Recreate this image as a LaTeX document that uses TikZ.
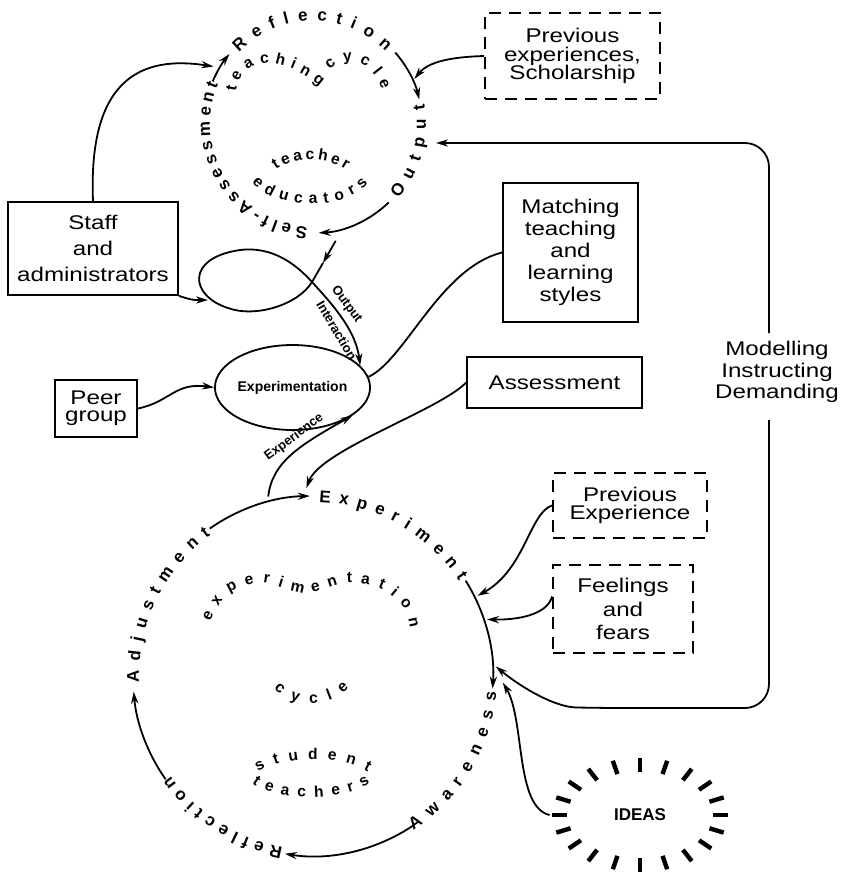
\documentclass[tikz,border=0pt]{standalone}
\usepackage{fontspec}
\setmainfont{Liberation Sans}
\newfontfamily\widefont{Liberation Sans}[FakeStretch=1.22]
\usetikzlibrary{shapes,positioning,arrows.meta,decorations.text,calc}
\newcommand{\ringfont}{\bfseries\fontsize{8.5}{10}\selectfont}
\newcommand{\innerfont}{\bfseries\fontsize{7.8}{9}\selectfont}

\begin{document}
\begin{tikzpicture}[x=0.5pt,y=-0.5pt]
	\tikzstyle{every node}=[inner sep=0pt];
	\tikzstyle{box}=[draw,line width=0.9pt,align=center,font=\widefont\fontsize{9.9}{11.5}\selectfont];
	\tikzstyle{dbox}=[box,dash pattern=on 6pt off 4pt];
	\tikzstyle{arr}=[line width=0.9pt,-{Stealth[length=6pt,width=3.6pt]}];
	\tikzstyle{link}=[line width=0.9pt];
	\tikzstyle{ray}=[line width=2.2pt];
	\tikzstyle{tag}=[inner sep=2.5pt,sloped,font=\bfseries\fontsize{6.5}{7}\selectfont];
	\tikzset{ringtxt/.style={decorate,decoration={text along path,text align=fit to path,text={|\ringfont|#1}}},
		inringtxt/.style={decorate,decoration={text along path,text align=fit to path,text={|\innerfont|#1}}}}
	\useasboundingbox (0,0) rectangle (841,874);

	% the two cycles
	\coordinate (tc) at (313,124);
	\coordinate (sc) at (313,676);

	% teaching cycle
	\path[ringtxt=Reflection] (tc) ++(-136:103) arc[start angle=-136,end angle=-45,radius=103];
	\path[ringtxt=Output] (tc) ++(41:113) arc[start angle=41,end angle=-10,radius=113];
	\path[ringtxt=Self-Assessment] (tc) ++(93:103) arc[start angle=93,end angle=203,radius=103];
	\draw[arr] (tc) ++(-41:109) arc[start angle=-41,end angle=-13,radius=109];
	\draw[arr] (tc) ++(46:109) arc[start angle=46,end angle=87,radius=109];
	\draw[arr] (tc) ++(203:109) arc[start angle=203,end angle=220,radius=109];
	\path[inringtxt=teaching] (236,92) .. controls (242,48) and (290,61) .. (320,86);
	\path[inringtxt=cycle] (330,70) .. controls (342,56) and (370,56) .. (382,90);
	\path[inringtxt=teacher] (276,170) .. controls (295,156) and (325,156) .. (346,170);
	\path[inringtxt=educators] (252,182) .. controls (275,211) and (345,211) .. (368,183);

	% experimentation cycle
	\path[ringtxt=Experiment] (sc) ++(-88:174) arc[start angle=-88,end angle=-33,radius=174];
	\path[ringtxt=Awareness] (sc) ++(57:184) arc[start angle=57,end angle=5,radius=184];
	\path[ringtxt=Reflection] (sc) ++(100:174) arc[start angle=100,end angle=145,radius=174];
	\path[ringtxt=Adjustment] (sc) ++(178:174) arc[start angle=178,end angle=234,radius=174];
	\draw[arr] (sc) ++(-32:180) arc[start angle=-32,end angle=4,radius=180];
	\draw[arr] (sc) ++(56:180) arc[start angle=56,end angle=99,radius=180];
	\draw[arr] (sc) ++(145:180) arc[start angle=145,end angle=175,radius=180];
	\draw[arr] (sc) ++(235:180) arc[start angle=235,end angle=269,radius=180];
	\path[inringtxt=experimentation] plot[smooth] coordinates {(210,622) (228,594) (262,583) (305,593) (345,583) (380,588) (404,608) (410,628)};
	\path[inringtxt=cycle] (274,688) .. controls (292,709) and (330,709) .. (349,688);
	\path[inringtxt=student] (258,772) .. controls (285,755) and (340,755) .. (368,772);
	\path[inringtxt=teachers] (252,783) .. controls (275,802) and (345,802) .. (370,783);

	% boxes
	\node[box,minimum width=85pt,minimum height=46.5pt,font=\widefont\fontsize{9.9}{13}\selectfont] (staff) at (93,248.5) {Staff\\and\\administrators};
	\node[dbox,minimum width=87.5pt,minimum height=43pt,font=\widefont\fontsize{9.9}{9.3}\selectfont] (prevexp) at (572.5,56) {Previous\\experiences,\\Scholarship};
	\node[box,minimum width=67.5pt,minimum height=69.5pt,font=\widefont\fontsize{9.9}{11}\selectfont] (matching) at (570.5,252.5) {Matching\\teaching\\and\\learning\\styles};
	\node[box,minimum width=87.5pt,minimum height=25.5pt] (assess) at (554.5,382.5) {Assessment};
	\node[box,minimum width=41pt,minimum height=28.5pt,font=\widefont\fontsize{9.9}{8.5}\selectfont] (peer) at (96,408.5) {Peer\\group};
	\node[dbox,minimum width=77pt,minimum height=32.5pt,font=\widefont\fontsize{9.9}{9}\selectfont] (prevexp2) at (630,505.5) {Previous\\Experience};
	\node[dbox,minimum width=70pt,minimum height=44pt,font=\widefont\fontsize{9.9}{11.7}\selectfont] (feel) at (623,609) {Feelings\\and\\fears};
	\node[align=center,font=\widefont\fontsize{9.9}{10.8}\selectfont] (model) at (777,372) {Modelling\\Instructing\\Demanding};
	\node[draw,ellipse,line width=0.9pt,minimum width=72.5pt,minimum height=42.5pt,font=\bfseries\fontsize{7}{8}\selectfont] (expt) at (292.5,387.5) {Experimentation};
	\node[ellipse,minimum width=90pt,minimum height=57pt,font=\bfseries\fontsize{8.5}{10}\selectfont] (ideas) at (640,815) {IDEAS};
	\foreach \a in {0,18,...,342}
		\draw[ray] ($(ideas.center)+(\a:73 and 43)$) -- ($(ideas.center)+(\a:88 and 57)$);

	% free ends on the cycles
	\coordinate (outp) at (436,143);
	\coordinate (mtop) at (769,333);
	\coordinate (mbot) at (769,420);
	\coordinate (awin) at ($(sc)+(-3:183)$);
	\coordinate (previn) at ($(tc)+(-24:111)$);
	\coordinate (staffin) at ($(tc)+(210:115)$);
	\coordinate (loopin) at (208,300);
	\coordinate (lpA) at ($(tc)+(79:119)$);
	\coordinate (lpB) at (323,263);
	\coordinate (lpX) at (312,282);
	\coordinate (assin) at ($(sc)+(-92:188)$);
	\coordinate (expout) at ($(sc)+(256:185)$);
	\coordinate (pe2in) at ($(sc)+(-26:183)$);
	\coordinate (feelin) at ($(sc)+(-18:183)$);
	\coordinate (ideain) at ($(sc)+(2:190)$);

	% connectors
	\draw[arr,rounded corners=12pt] (mtop) |- (outp);
	\draw[arr,rounded corners=12pt] (mbot) |- (600,708) .. controls (555,707) and (522,688) .. (awin);
	\draw[arr] (prevexp.west) .. controls (450,57) and (428,62) .. (previn);
	\draw[arr] (staff.north) .. controls (88,80) and (140,55) .. (staffin);
	\draw[arr] (staff.south east) .. controls (192,300) .. (loopin);
	\draw[arr] (lpA) -- (lpB);
	\draw[arr] (lpB) -- (lpX) .. controls (298,305) and (255,318) .. (228,308)
		.. controls (190,296) and (185,258) .. (240,250)
		.. controls (272,246) and (296,264) .. (lpX)
		.. controls (336,308) and (356,332) .. (expt.18)
		node[tag,pos=.38,above] {Output} node[tag,pos=.55,below] {Interaction};
	\draw[arr] (peer.east) .. controls (170,402) and (175,382) .. (expt.west);
	\draw[link] (matching.west) .. controls (440,268) and (405,360) .. (expt.8);
	\draw[arr] (assess.west) .. controls (440,410) and (320,450) .. (assin);
	\draw[arr] (expout) .. controls (272,462) and (300,445) .. (expt.-25)
		node[tag,pos=.6,above] {Experience};
	\draw[arr] (prevexp2.west) .. controls (530,512) and (525,570) .. (pe2in);
	\draw[arr] (feel.170) .. controls (548,612) and (525,620) .. (feelin);
	\draw[arr] (ideas.west) .. controls (515,807) and (525,720) .. (ideain);
\end{tikzpicture}
\end{document}
